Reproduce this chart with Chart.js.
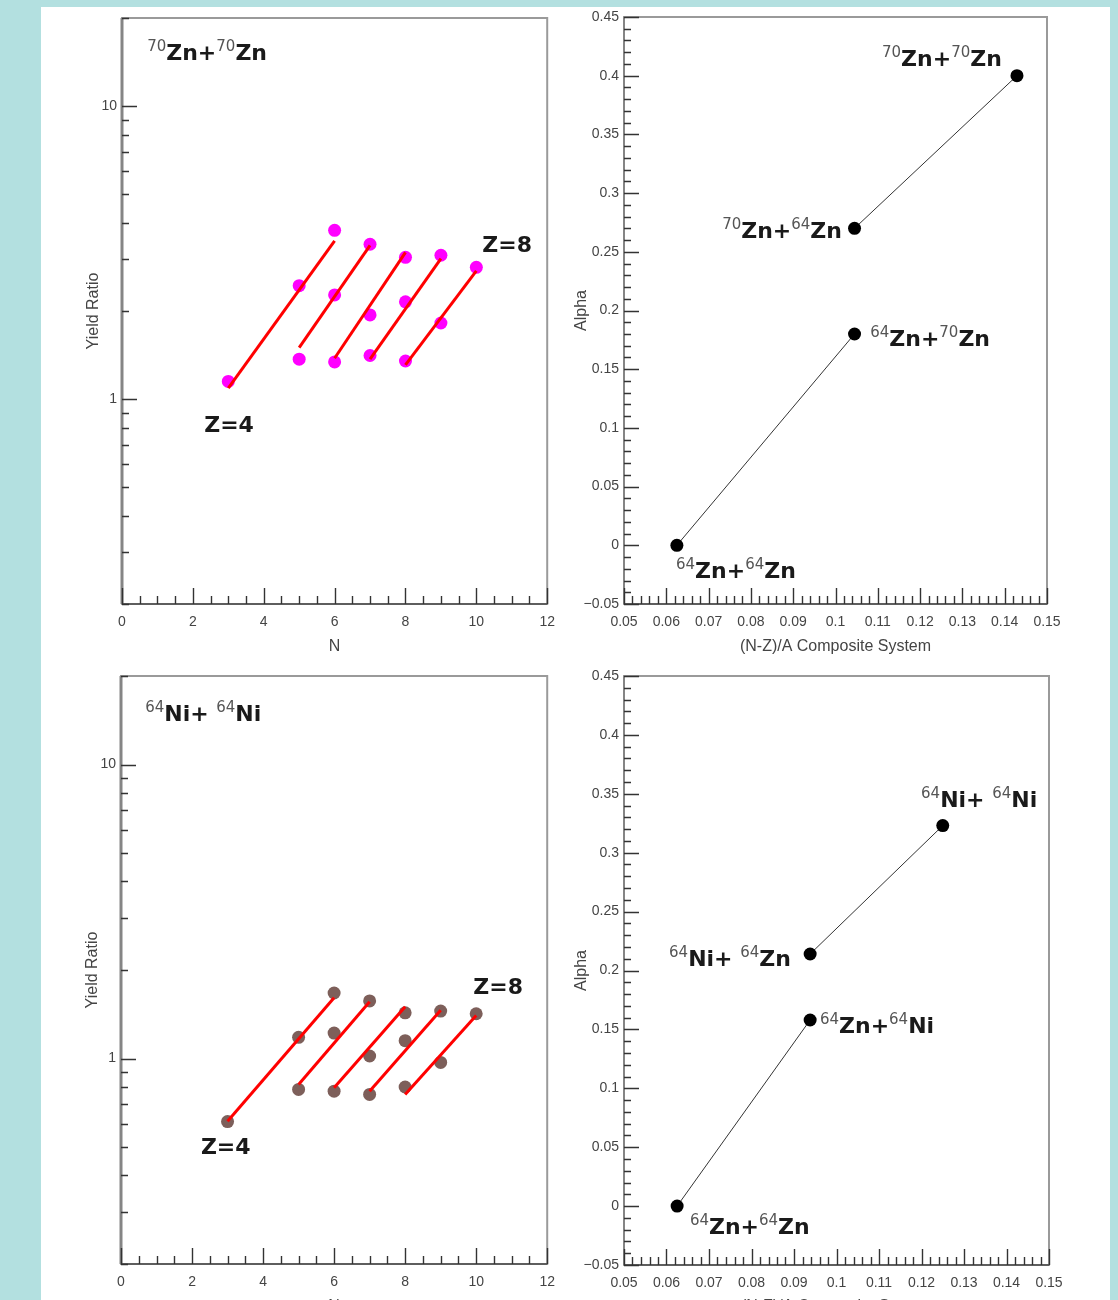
<!DOCTYPE html>
<html>
<head>
<meta charset="utf-8">
<script src="https://cdn.jsdelivr.net/npm/chart.js@4.4.1/dist/chart.umd.min.js"></script>
<style>
  html, body { margin: 0; padding: 0; background: #b3e0e0; width: 1118px; height: 1300px; overflow: hidden; }
  #sheet { position: absolute; left: 41px; top: 7px; width: 1069px; height: 1300px; background: #fff; }
  canvas { position: absolute; }
</style>
</head>
<body>
<div id="sheet"></div>
<canvas id="yieldZn" width="525" height="660" style="left:40px;top:0px"></canvas>
<canvas id="alphaZn" width="520" height="660" style="left:560px;top:0px"></canvas>
<canvas id="yieldNi" width="525" height="660" style="left:40px;top:660px"></canvas>
<canvas id="alphaNi" width="520" height="660" style="left:560px;top:660px"></canvas>
<script>
// yield ratio vs N, one isotope chain per Z (Z=4 .. Z=8)
var chainN = [[3, 5, 6], [5, 6, 7], [6, 7, 8], [7, 8, 9], [8, 9, 10]];
var fitN = [[3, 6], [5, 7], [6, 8], [7, 9], [8, 10]];

var znRatio = [[1.15, 2.44, 3.77], [1.37, 2.27, 3.38], [1.34, 1.94, 3.05], [1.41, 2.15, 3.10], [1.35, 1.82, 2.82]];
var znFit = [[1.09, 3.47], [1.50, 3.35], [1.38, 3.17], [1.37, 3.02], [1.31, 2.74]];

var niRatio = [[0.61, 1.18, 1.67], [0.785, 1.22, 1.57], [0.774, 1.02, 1.43], [0.755, 1.15, 1.45], [0.80, 0.97, 1.42]];
var niFit = [[0.612, 1.61], [0.816, 1.56], [0.795, 1.50], [0.774, 1.46], [0.755, 1.40]];

// alpha vs (N-Z)/A of the composite system, pairs joined by a line
var znSystems = ['^{64}Zn+^{64}Zn', '^{64}Zn+^{70}Zn', '^{70}Zn+^{64}Zn', '^{70}Zn+^{70}Zn'];
var znAsym = [0.0625, 0.1045, 0.1045, 0.1429];
var znAlpha = [0, 0.18, 0.27, 0.40];

var niSystems = ['^{64}Zn+^{64}Zn', '^{64}Zn+^{64}Ni', '^{64}Ni+ ^{64}Zn', '^{64}Ni+ ^{64}Ni'];
var niAsym = [0.0625, 0.0938, 0.0938, 0.125];
var niAlpha = [0, 0.158, 0.214, 0.323];

// tick labels
var nTicks = [0, 2, 4, 6, 8, 10, 12];
var ratioTicks = [1, 10];
var alphaTicks = [-0.05, 0, 0.05, 0.1, 0.15, 0.2, 0.25, 0.3, 0.35, 0.4, 0.45];
var asymTicks = [0.05, 0.06, 0.07, 0.08, 0.09, 0.1, 0.11, 0.12, 0.13, 0.14, 0.15];

function steps(a, b, s) {
    var out = [];
    for (var i = 0; a + i * s <= b + 1e-9; i++) out.push(+(a + i * s).toFixed(4));
    return out;
}
var logMinor = [0.2, 0.3, 0.4, 0.5, 0.6, 0.7, 0.8, 0.9, 2, 3, 4, 5, 6, 7, 8, 9, 20];

function splitSup(s) {
    var out = [], re = /\^\{([^}]*)\}/g, last = 0, m;
    while ((m = re.exec(s))) {
        if (m.index > last) out.push({ s: s.slice(last, m.index), sup: false });
        out.push({ s: m[1], sup: true });
        last = re.lastIndex;
    }
    if (last < s.length) out.push({ s: s.slice(last), sup: false });
    return out;
}

// ROOT style frame with ticks pointing inside
var rootFrame = {
    id: 'rootFrame',
    beforeDatasetsDraw: function(chart, args, o) {
        var ctx = chart.ctx, a = chart.chartArea, sx = chart.scales.x, sy = chart.scales.y;
        ctx.save();
        ctx.strokeStyle = '#9a9a9a';
        ctx.lineWidth = 2;
        ctx.strokeRect(a.left, a.top, a.right - a.left, a.bottom - a.top);
        ctx.strokeStyle = '#858585';
        ctx.lineWidth = o.axisWidth;
        ctx.beginPath();
        ctx.moveTo(a.left, a.top);
        ctx.lineTo(a.left, a.bottom);
        ctx.stroke();
        ctx.strokeStyle = '#4a4a4a';
        ctx.lineWidth = 1.5;
        ctx.beginPath();
        ctx.moveTo(a.left, a.bottom);
        ctx.lineTo(a.right, a.bottom);
        ctx.stroke();
        ctx.strokeStyle = '#333';
        ctx.lineWidth = 1.4;
        ctx.beginPath();
        function xt(list, len) {
            list.forEach(function(v) {
                var x = Math.round(sx.getPixelForValue(v)) + 0.5;
                ctx.moveTo(x, a.bottom);
                ctx.lineTo(x, a.bottom - len);
            });
        }
        function yt(list, len) {
            list.forEach(function(v) {
                var y = Math.round(sy.getPixelForValue(v)) + 0.5;
                ctx.moveTo(a.left, y);
                ctx.lineTo(a.left + len, y);
            });
        }
        xt(o.xMinor, 8);
        xt(o.xMajor, 16);
        yt(o.yMinor, 7);
        yt(o.yMajor, 15);
        ctx.stroke();
        ctx.restore();
    }
};

var isoLabels = {
    id: 'isoLabels',
    afterDatasetsDraw: function(chart, args, o) {
        var ctx = chart.ctx;
        ctx.save();
        ctx.textAlign = 'left';
        ctx.textBaseline = 'alphabetic';
        o.items.forEach(function(it) {
            var x = chart.scales.x.getPixelForValue(it.x);
            var y = chart.scales.y.getPixelForValue(it.y);
            splitSup(it.text).forEach(function(p) {
                if (p.sup) {
                    ctx.font = '15px "DejaVu Sans"';
                    ctx.fillStyle = '#555';
                    ctx.fillText(p.s, x, y - 9);
                } else {
                    ctx.font = 'bold 22px "DejaVu Sans"';
                    ctx.fillStyle = '#1a1a1a';
                    ctx.fillText(p.s, x, y);
                }
                x += ctx.measureText(p.s).width;
            });
        });
        ctx.restore();
    }
};

var tickFont = { family: 'Liberation Sans', size: 14 };
var titleFont = { family: 'Liberation Sans', size: 16 };

function fmt(v) {
    return String(+v.toFixed(3)).replace('-', '\u2212');
}

function makeChart(id, datasets, xs, ys, box, marks, labels) {
    new Chart(document.getElementById(id), {
        type: 'scatter',
        data: { datasets: datasets },
        options: {
            responsive: false,
            animation: false,
            layout: { padding: box.pad },
            plugins: { legend: { display: false }, tooltip: { enabled: false }, rootFrame: marks, isoLabels: { items: labels } },
            scales: {
                x: {
                    type: 'linear', min: xs.min, max: xs.max,
                    grid: { display: false, drawTicks: false }, border: { display: false },
                    afterBuildTicks: function(s) { s.ticks = xs.ticks.map(function(v) { return { value: v }; }); },
                    afterFit: function(s) { s.height = box.xh; },
                    ticks: { padding: 10, color: '#444', font: tickFont, maxRotation: 0, autoSkip: false, callback: fmt },
                    title: { display: true, text: xs.title, color: '#444', font: titleFont }
                },
                y: {
                    type: ys.type, min: ys.min, max: ys.max,
                    grid: { display: false, drawTicks: false }, border: { display: false },
                    afterBuildTicks: function(s) { s.ticks = ys.ticks.map(function(v) { return { value: v }; }); },
                    afterFit: function(s) { s.width = box.yw; },
                    ticks: { padding: 5, color: '#444', font: tickFont, autoSkip: false, callback: fmt },
                    title: { display: true, text: ys.title, color: '#444', font: titleFont }
                }
            }
        },
        plugins: [rootFrame, isoLabels]
    });
}

function yieldSets(ratio, fit, color) {
    var sets = [];
    fit.forEach(function(f, i) {
        sets.push({
            data: fitN[i].map(function(n, j) { return { x: n, y: f[j] }; }),
            showLine: true, borderColor: '#ff0000', borderWidth: 3, pointRadius: 0, order: 0
        });
    });
    ratio.forEach(function(r, i) {
        sets.push({
            data: chainN[i].map(function(n, j) { return { x: n, y: r[j] }; }),
            showLine: false, pointRadius: 6.5, pointBorderWidth: 0, backgroundColor: color, order: 1
        });
    });
    return sets;
}

function alphaSets(asym, alpha) {
    return [[0, 1], [2, 3]].map(function(pair) {
        return {
            data: pair.map(function(k) { return { x: asym[k], y: alpha[k] }; }),
            showLine: true, borderColor: '#333', borderWidth: 1,
            pointRadius: 6.5, pointBorderWidth: 0, backgroundColor: '#000'
        };
    });
}

var nAxis = { min: 0, max: 12, ticks: nTicks, title: 'N' };
var ratioAxis = { type: 'logarithmic', min: 0.2, max: 20, ticks: ratioTicks, title: 'Yield Ratio' };
var asymAxis = { min: 0.05, max: 0.15, ticks: asymTicks, title: '(N-Z)/A Composite System' };
var alphaAxis = { type: 'linear', min: -0.05, max: 0.45, ticks: alphaTicks, title: 'Alpha' };

var yieldMarks = { xMajor: nTicks, xMinor: steps(0, 12, 0.5), yMajor: ratioTicks, yMinor: logMinor, axisWidth: 3 };
var alphaMarks = { xMajor: asymTicks, xMinor: steps(0.05, 0.15, 0.002), yMajor: alphaTicks, yMinor: steps(-0.05, 0.45, 0.01), axisWidth: 2 };

makeChart('yieldZn', yieldSets(znRatio, znFit, '#ff00ff'), nAxis, ratioAxis,
    { pad: { left: 40, right: 0, top: 18, bottom: 0 }, yw: 42, xh: 56 }, yieldMarks,
    [{ text: '^{70}Zn+^{70}Zn', x: 0.71, y: 14.4 }, { text: 'Z=8', x: 10.17, y: 3.17 }, { text: 'Z=4', x: 2.32, y: 0.773 }]);

makeChart('alphaZn', alphaSets(znAsym, znAlpha), asymAxis, alphaAxis,
    { pad: { left: 8, right: 33, top: 17, bottom: 0 }, yw: 56, xh: 56 }, alphaMarks,
    [{ text: znSystems[3], x: 0.111, y: 0.408 }, { text: znSystems[2], x: 0.0732, y: 0.262 },
     { text: znSystems[1], x: 0.1082, y: 0.170 }, { text: znSystems[0], x: 0.0623, y: -0.028 }]);

makeChart('yieldNi', yieldSets(niRatio, niFit, '#7d5f5a'), nAxis, ratioAxis,
    { pad: { left: 39, right: 0, top: 16, bottom: 0 }, yw: 42, xh: 56 }, yieldMarks,
    [{ text: '^{64}Ni+ ^{64}Ni', x: 0.68, y: 14.1 }, { text: 'Z=8', x: 9.92, y: 1.66 }, { text: 'Z=4', x: 2.25, y: 0.475 }]);

makeChart('alphaNi', alphaSets(niAsym, niAlpha), asymAxis, alphaAxis,
    { pad: { left: 8, right: 31, top: 16, bottom: 0 }, yw: 56, xh: 55 }, alphaMarks,
    [{ text: niSystems[3], x: 0.1199, y: 0.339 }, { text: niSystems[2], x: 0.0606, y: 0.204 },
     { text: niSystems[1], x: 0.0961, y: 0.147 }, { text: niSystems[0], x: 0.0655, y: -0.024 }]);
</script>
</body>
</html>
